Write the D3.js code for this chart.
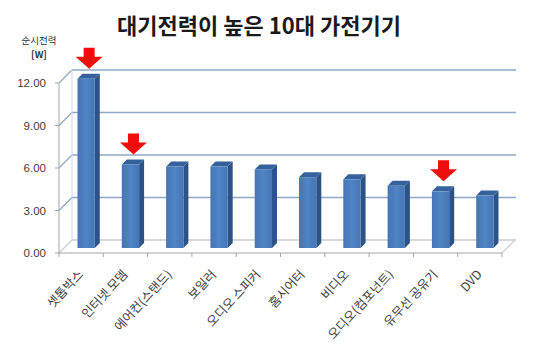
<!DOCTYPE html>
<html><head><meta charset="utf-8">
<script src="https://cdn.jsdelivr.net/npm/d3@7/dist/d3.min.js"></script>
<style>body{margin:0;background:#fff}svg{display:block}</style>
</head><body>
<svg id="c" width="540" height="351"></svg>
<script>
const categories = ["셋톱박스","인터넷 모뎀","에어컨(스탠드)","보일러","오디오 스피커","홈시어터","비디오","오디오(컴포넌트)","유무선 공유기","DVD"];
const values = [11.95, 5.9, 5.75, 5.75, 5.55, 5.0, 4.85, 4.4, 4.0, 3.7];
const highlighted = ["셋톱박스","인터넷 모뎀","유무선 공유기"];
const yTicks = [0, 3, 6, 9, 12];
const title = "대기전력이 높은 10대 가전기기";
const yTitle = ["순시전력","[W]"];

const svg = d3.select("#c");
const font = "'Noto Sans CJK KR','Noto Sans',sans-serif";
const x = d3.scaleBand().domain(categories).range([59, 502]);
const y = d3.scaleLinear().domain([0, 12]).range([253, 83]);
const wallDx = 13, wallDy = -13;   // back wall offset
const barDx = 5, barDy = -5;       // bar front offset from floor front
const depth = 5;                   // bar depth
const gridColor = "#8fa8c4";

const defs = svg.append("defs");
const grad = defs.append("linearGradient").attr("id", "fg").attr("x1", 0).attr("x2", 1).attr("y1", 0).attr("y2", 0);
grad.append("stop").attr("offset", 0).attr("stop-color", "#4575b4");
grad.append("stop").attr("offset", 0.5).attr("stop-color", "#5084c4");
grad.append("stop").attr("offset", 1).attr("stop-color", "#4575b4");

// back wall gridlines
svg.append("g").selectAll("line").data(yTicks).join("line")
  .attr("x1", x.range()[0] + wallDx).attr("x2", x.range()[1] + wallDx + 1)
  .attr("y1", d => y(d) + wallDy).attr("y2", d => y(d) + wallDy)
  .attr("stroke", d => d === 0 ? "#c8ccd2" : gridColor).attr("stroke-width", 1.3);
// left wall diagonals
svg.append("g").selectAll("line").data(yTicks).join("line")
  .attr("x1", x.range()[0]).attr("x2", x.range()[0] + wallDx)
  .attr("y1", d => y(d)).attr("y2", d => y(d) + wallDy)
  .attr("stroke", d => d === 0 ? "#c8ccd2" : gridColor).attr("stroke-width", 1.2);
// left wall back edge
svg.append("line").attr("x1", x.range()[0] + wallDx).attr("x2", x.range()[0] + wallDx)
  .attr("y1", y(0) + wallDy).attr("y2", y(12) + wallDy).attr("stroke", "#d0d6de");
// floor right edge
svg.append("line").attr("x1", x.range()[1]).attr("x2", x.range()[1] + wallDx)
  .attr("y1", y(0)).attr("y2", y(0) + wallDy).attr("stroke", "#c8ccd2").attr("stroke-width", 1.2);

// front axes
svg.append("line").attr("x1", x.range()[0]).attr("x2", x.range()[0])
  .attr("y1", y(0)).attr("y2", y(12)).attr("stroke", "#a6a6a6");
svg.append("line").attr("x1", x.range()[0]).attr("x2", x.range()[1])
  .attr("y1", y(0)).attr("y2", y(0)).attr("stroke", "#a6a6a6");
// y ticks
svg.append("g").selectAll("line").data(yTicks).join("line")
  .attr("x1", x.range()[0] - 4).attr("x2", x.range()[0])
  .attr("y1", d => y(d)).attr("y2", d => y(d)).attr("stroke", "#a6a6a6");
svg.append("g").selectAll("text").data(yTicks).join("text")
  .attr("x", 46).attr("y", d => y(d) + 4)
  .attr("text-anchor", "end").attr("font-family", "'Liberation Sans',Arial,sans-serif")
  .attr("font-size", 11.5).attr("fill", "#404040")
  .text(d => d.toFixed(2));
// x ticks (band boundaries)
const bounds = categories.map(c => x(c)).concat([x.range()[1]]);
svg.append("g").selectAll("line").data(bounds).join("line")
  .attr("x1", d => d).attr("x2", d => d)
  .attr("y1", y(0)).attr("y2", y(0) + 4).attr("stroke", "#a6a6a6");

// bars
const bw = x.bandwidth() * 0.39;
const bars = svg.append("g").selectAll("g").data(categories).join("g");
const bx = c => x(c) + (x.bandwidth() - bw) / 2 + barDx;
const by = (i) => y(values[i]) + barDy;
const base = y(0) + barDy;
bars.append("path") // side
  .attr("d", (c, i) => `M${bx(c)+bw},${by(i)} L${bx(c)+bw+depth},${by(i)-depth} L${bx(c)+bw+depth},${base-depth} L${bx(c)+bw},${base} Z`)
  .attr("fill", "#2c5386");
bars.append("path") // top
  .attr("d", (c, i) => `M${bx(c)},${by(i)} L${bx(c)+depth},${by(i)-depth} L${bx(c)+bw+depth},${by(i)-depth} L${bx(c)+bw},${by(i)} Z`)
  .attr("fill", "#35629d");
bars.append("rect") // front
  .attr("x", c => bx(c)).attr("y", (c, i) => by(i))
  .attr("width", bw).attr("height", (c, i) => base - by(i))
  .attr("fill", "url(#fg)");

// arrows
const aw = 27, ah = 21, sw = 11, hh = 12;
svg.append("g").selectAll("path").data(highlighted).join("path")
  .attr("d", c => {
    const i = categories.indexOf(c);
    const cx = bx(c) + bw / 2 + 3, tip = by(i) - 10;
    const top = tip - ah, hb = tip - hh;
    return `M${cx-sw/2},${top} L${cx+sw/2},${top} L${cx+sw/2},${hb} L${cx+aw/2},${hb} L${cx},${tip} L${cx-aw/2},${hb} L${cx-sw/2},${hb} Z`;
  })
  .attr("fill", "#f20d0d");

// x labels
svg.append("g").selectAll("text").data(categories).join("text")
  .attr("transform", c => `translate(${x(c) + x.bandwidth()/2 + 3},${y(0) + 22}) rotate(-47)`)
  .attr("text-anchor", "end").attr("font-family", font)
  .attr("font-size", 12.5).attr("fill", "#404040")
  .text(c => c);

// titles
svg.append("text").attr("x", 259).attr("y", 34).attr("text-anchor", "middle")
  .attr("font-family", font).attr("font-weight", "bold").attr("font-size", 22)
  .attr("fill", "#1a1a1a").text(title);
svg.selectAll(".yt").data(yTitle).join("text")
  .attr("x", 39).attr("y", (d, i) => 44 + i * 14).attr("text-anchor", "middle")
  .attr("font-family", font).attr("font-weight", (d, i) => i ? "bold" : "normal")
  .attr("font-size", 9.5).attr("fill", "#333").text(d => d);
</script>
</body></html>
